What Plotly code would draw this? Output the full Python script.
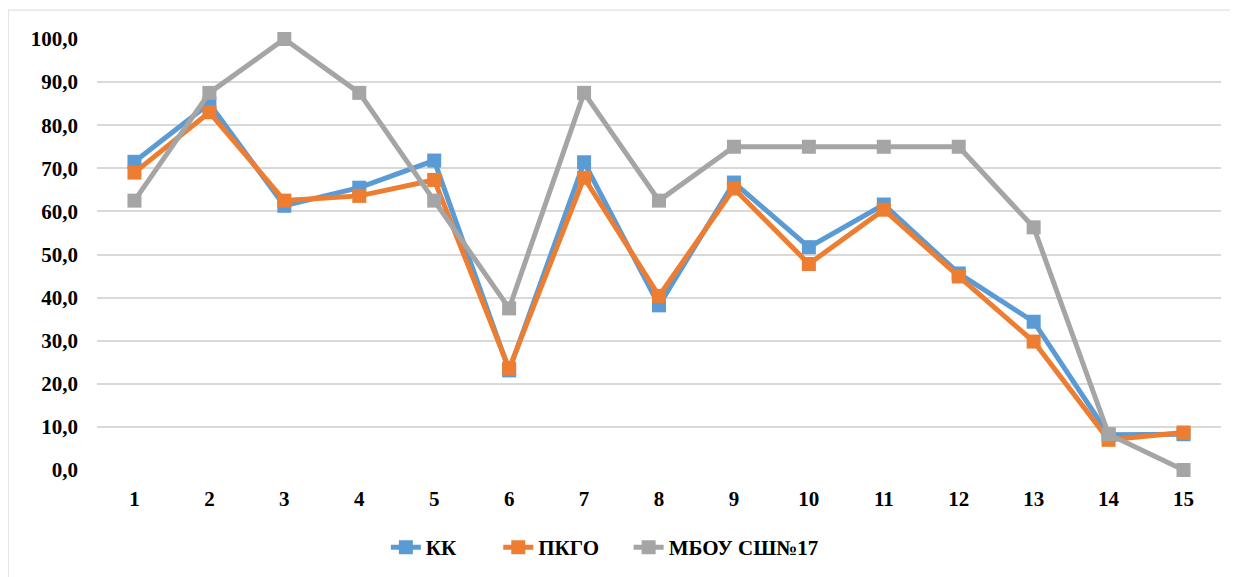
import plotly.graph_objects as go

categories = [str(i) for i in range(1, 16)]
kk = [71.5, 85.0, 61.3, 65.5, 71.8, 23.1, 71.4, 38.2, 66.7, 51.7, 61.6, 45.6, 34.4, 8.2, 8.3]
pkgo = [69.0, 83.0, 62.5, 63.6, 67.3, 23.5, 67.8, 40.4, 65.3, 47.8, 60.4, 44.9, 29.8, 7.0, 8.7]
mbou = [62.5, 87.5, 100.0, 87.5, 62.5, 37.5, 87.5, 62.5, 75.0, 75.0, 75.0, 75.0, 56.3, 8.3, 0.0]

series = [("КК", kk, "#5B9BD5"), ("ПКГО", pkgo, "#ED7D31"), ("МБОУ СШ№17", mbou, "#A5A5A5")]
legend_ids = ["legend", "legend2", "legend3"]
legend_x = [0.257, 0.357, 0.473]

font_fam = "Liberation Serif, Times New Roman, serif"

fig = go.Figure()
for (name, vals, col), lid in zip(series, legend_ids):
    fig.add_trace(go.Scatter(
        x=categories, y=vals, name=name, mode="lines+markers",
        line=dict(color=col, width=5),
        marker=dict(symbol="square", size=14, color=col),
        legend=lid, cliponaxis=False,
    ))

legend_common = dict(orientation="h", xanchor="left", y=-0.18, yanchor="middle",
                     font=dict(family=font_fam, size=21, color="black", weight="bold"),
                     bgcolor="rgba(0,0,0,0)")

fig.update_layout(
    width=1238, height=577,
    margin=dict(l=89, r=25, t=31, b=115),
    paper_bgcolor="white", plot_bgcolor="white",
    separators=", ",
    font=dict(family=font_fam, size=21, color="black"),
    showlegend=True,
    legend=dict(x=legend_x[0], **legend_common),
    legend2=dict(x=legend_x[1], **legend_common),
    legend3=dict(x=legend_x[2], **legend_common),
    xaxis=dict(type="category", range=[-0.5, 14.5], showgrid=False, zeroline=False,
               showline=False, ticks="", ticklabelstandoff=14,
               tickfont=dict(family=font_fam, size=21, weight="bold")),
    yaxis=dict(range=[0, 100], dtick=10, tickformat=".1f", showgrid=True,
               gridcolor="#D9D9D9", gridwidth=2, zeroline=False, showline=False,
               ticks="", ticklabelstandoff=18,
               tickfont=dict(family=font_fam, size=21, weight="bold")),
    shapes=[dict(type="rect", xref="paper", yref="paper", x0=-0.079, x1=1.0102, y0=-0.27, y1=1.067,
                 line=dict(color="#D9D9D9", width=1), layer="below")],
)

fig.write_html("out.html")
